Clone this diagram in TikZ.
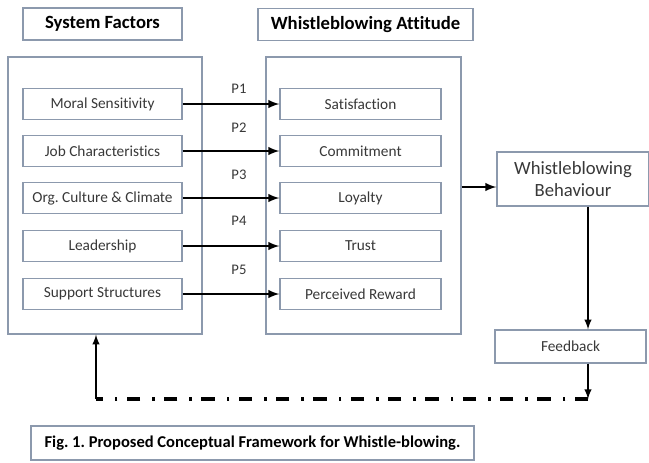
\documentclass[tikz,border=0pt]{standalone}
\usepackage{fontspec}
\setmainfont[Ligatures=NoCommon]{Carlito}
\frenchspacing
\usetikzlibrary{arrows,positioning}
\definecolor{boxline}{rgb}{.55,.6,.68}
\definecolor{textgray}{rgb}{.22,.22,.22}

\begin{document}
\begin{tikzpicture}[x=0.75pt,y=-0.75pt,
    box/.style={draw=boxline,line width=1pt,inner sep=0pt,text=textgray,
      minimum height=23.5pt,font=\fontsize{11.5}{13}\selectfont},
    titlebox/.style={draw=boxline,line width=1pt,inner sep=0pt,
      minimum height=24pt,font=\fontsize{14}{16}\bfseries\selectfont},
    flow/.style={-latex,line width=1.8pt},
    plabel/.style={text=textgray,font=\fontsize{11}{13}\selectfont}]
    \useasboundingbox (0,0) rectangle (649,462);

    % outer frames
    \node[draw=boxline,line width=1pt,minimum width=145.5pt,minimum height=207.75pt] (sys) at (105,195.5) {};
    \node[draw=boxline,line width=1pt,minimum width=146.25pt,minimum height=207.75pt] (att) at (363.5,195.5) {};

    % headings
    \node[titlebox,minimum width=119.25pt] (systitle) at (102.5,24) {System Factors};
    \node[titlebox,minimum width=161.25pt] (atttitle) at (365.5,24.5) {Whistleblowing Attitude};

    % factors, attitudes and propositions
    \foreach \y/\fac/\att/\n/\ly in {104/Moral Sensitivity/Satisfaction/1/89,
                                     151/Job Characteristics/Commitment/2/128,
                                     198/Org. Culture \& Climate/Loyalty/3/175,
                                     246/Leadership/Trust/4/221,
                                     294/Support Structures/Perceived Reward/5/270}{
      \node[box,minimum width=119.25pt] (f\n) at (102.5,\y) {\fac};
      \node[box,minimum width=120.75pt] (a\n) at (360.5,\y) {\att};
      \draw[flow] (f\n.east) -- (a\n.west);
      \node[plabel] (p\n) at (239,\ly) {P\n};
    }

    % behaviour and feedback
    \node[box,minimum width=114pt,minimum height=40.5pt,align=center,
      font=\fontsize{14}{16.5}\selectfont] (beh) at (573,179) {Whistleblowing\\Behaviour};
    \node[box,minimum width=113.25pt,minimum height=24.75pt] (fb) at (570.5,346.5) {Feedback};
    \coordinate (fbx) at (588,0);
    \coordinate (loopright) at (588,399);
    \coordinate (loopleft) at (96,399);

    \draw[flow] (att.east |- 0,187) -- (beh.west |- 0,187);
    \draw[-latex,line width=1.5pt] (beh.south -| fbx) -- (fb.north -| fbx);
    \draw[-latex,line width=1.5pt] (fb.south -| fbx) -- (loopright);
    \draw[line width=2.4pt,dash pattern=on 10pt off 7pt on 2pt off 9pt] (loopright) -- (loopleft);
    \draw[-latex,line width=1.5pt] (loopleft) -- (sys.south -| loopleft);

    % caption
    \node[draw=boxline,line width=1pt,minimum width=332.25pt,minimum height=25.5pt,inner sep=0pt,
      font=\fontsize{12.4}{14}\bfseries\selectfont] (cap) at (252.5,443) {Fig. 1. Proposed Conceptual Framework for Whistle-blowing.};
\end{tikzpicture}
\end{document}
